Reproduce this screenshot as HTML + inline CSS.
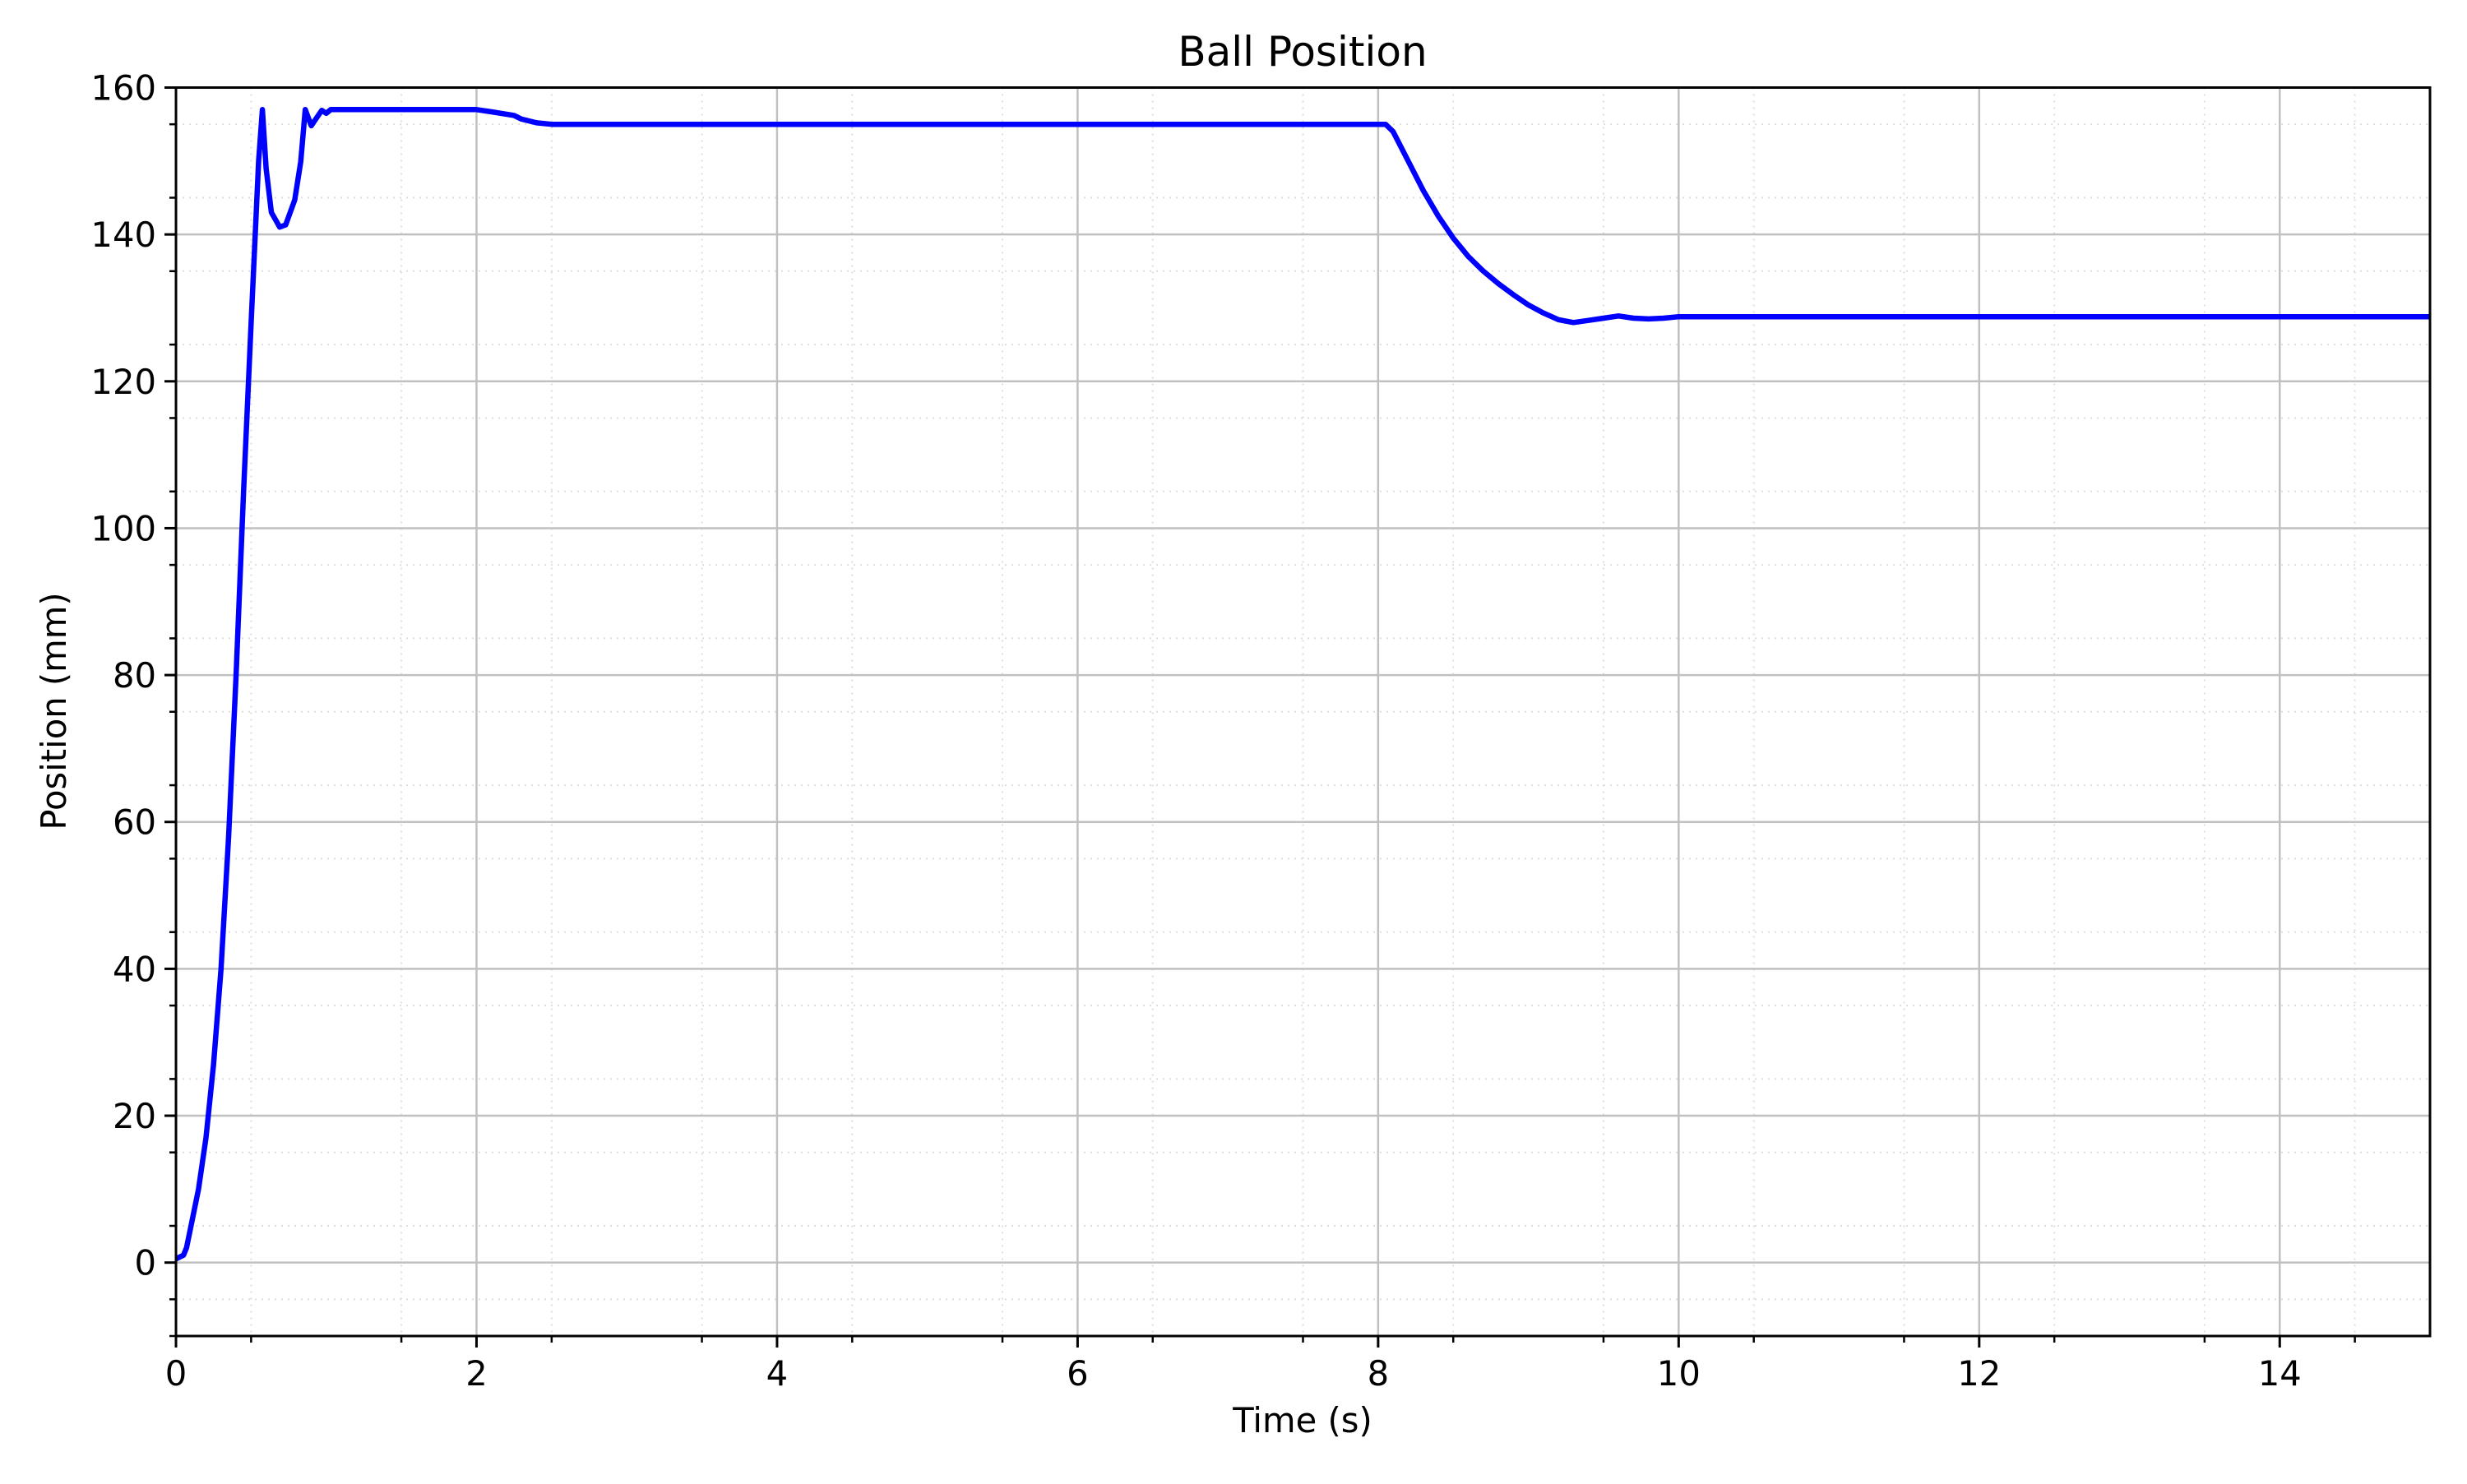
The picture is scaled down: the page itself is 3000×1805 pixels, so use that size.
<!DOCTYPE html>
<html><head><meta charset="utf-8"><style>
html,body{margin:0;padding:0;background:#fff}
svg text{font-family:"DejaVu Sans","Liberation Sans",sans-serif;fill:#000}
</style></head><body>
<svg id="chart" width="3000" height="1800" xmlns="http://www.w3.org/2000/svg">
<rect width="3000" height="1800" fill="#fff"/>
<g id="grid"></g><g id="ticks"></g>
<path id="line" fill="none" stroke="#0000ff" stroke-width="6.5" stroke-linejoin="round"/>
<rect x="214" y="106.5" width="2741" height="1518.5" fill="none" stroke="#000" stroke-width="3"/>
<text x="1584" y="80" font-size="50" text-anchor="middle">Ball Position</text>
<text x="1584" y="1742" font-size="41.7" text-anchor="middle">Time (s)</text>
<text transform="translate(80,865) rotate(-90)" font-size="41.7" text-anchor="middle">Position (mm)</text>
</svg>
<script>
const times=[0,0.05,0.07,0.1,0.15,0.2,0.25,0.3,0.35,0.4,0.45,0.5,0.55,0.575,0.6,0.635,0.69,0.73,0.79,0.83,0.86,0.9,0.94,0.97,1.0,1.03,2.0,2.1,2.25,2.3,2.4,2.5,8.05,8.1,8.2,8.3,8.4,8.5,8.6,8.7,8.8,8.9,9.0,9.1,9.2,9.3,9.4,9.5,9.6,9.7,9.8,9.9,10,15];
const positions=[0.5,1,2,5,10,17,27,40,58,80,105,128,150,157,149,143,141,141.3,144.7,149.9,157,154.8,156,156.9,156.5,157,157,156.7,156.2,155.7,155.2,155,155,154,150,146,142.5,139.5,137,135,133.3,131.8,130.4,129.3,128.4,128,128.3,128.6,128.9,128.6,128.5,128.6,128.8,128.8];
const xTicks=[0,2,4,6,8,10,12,14];
const yTicks=[0,20,40,60,80,100,120,140,160];
const X0=214,X1=2955,Y0=106.5,Y1=1625,xmin=0,xmax=15,ymin=-10,ymax=160;
const sx=v=>X0+(v-xmin)/(xmax-xmin)*(X1-X0);
const sy=v=>Y1-(v-ymin)/(ymax-ymin)*(Y1-Y0);
const NS="http://www.w3.org/2000/svg";
const grid=document.getElementById('grid'),ticks=document.getElementById('ticks');
function mk(p,tag,a){const e=document.createElementNS(NS,tag);for(const k in a)e.setAttribute(k,a[k]);p.appendChild(e);return e;}
for(let v=0.5;v<15;v+=1){const x=sx(v);
const l=mk(grid,'line',{x1:x,x2:x,y1:Y0,y2:Y1,stroke:'#ddd','stroke-width':2,'stroke-dasharray':'2,6'});


const t=mk(ticks,'line',{x1:x,x2:x,y1:Y1,y2:Y1+8,stroke:'#000','stroke-width':2.5});

}
for(let v=-5;v<160;v+=10){const y=sy(v);
const l=mk(grid,'line',{x1:X0,x2:X1,y1:y,y2:y,stroke:'#ddd','stroke-width':2,'stroke-dasharray':'2,6'});


const t=mk(ticks,'line',{x1:X0-8,x2:X0,y1:y,y2:y,stroke:'#000','stroke-width':2.5});

}
mk(ticks,'line',{x1:X0-8,x2:X0,y1:sy(-10),y2:sy(-10),stroke:'#000','stroke-width':2.5});
xTicks.forEach(v=>{const x=sx(v);
const l=mk(grid,'line',{x1:x,x2:x,y1:Y0,y2:Y1,stroke:'#c0c0c0','stroke-width':2.5});


const t=mk(ticks,'line',{x1:x,x2:x,y1:Y1,y2:Y1+14,stroke:'#000','stroke-width':3});


const tx=mk(ticks,'text',{x:x,y:Y1+60,'font-size':41.7,'text-anchor':'middle'});tx.textContent=v;

});
yTicks.forEach(v=>{const y=sy(v);
const l=mk(grid,'line',{x1:X0,x2:X1,y1:y,y2:y,stroke:'#c0c0c0','stroke-width':2.5});


const t=mk(ticks,'line',{x1:X0-14,x2:X0,y1:y,y2:y,stroke:'#000','stroke-width':3});


const tx=mk(ticks,'text',{x:X0-24,y:y+15,'font-size':41.7,'text-anchor':'end'});tx.textContent=v;

});
document.getElementById('line').setAttribute('d',times.map((t,i)=>(i?'L':'M')+sx(t).toFixed(1)+','+sy(positions[i]).toFixed(1)).join(''));
</script>
</body></html>
